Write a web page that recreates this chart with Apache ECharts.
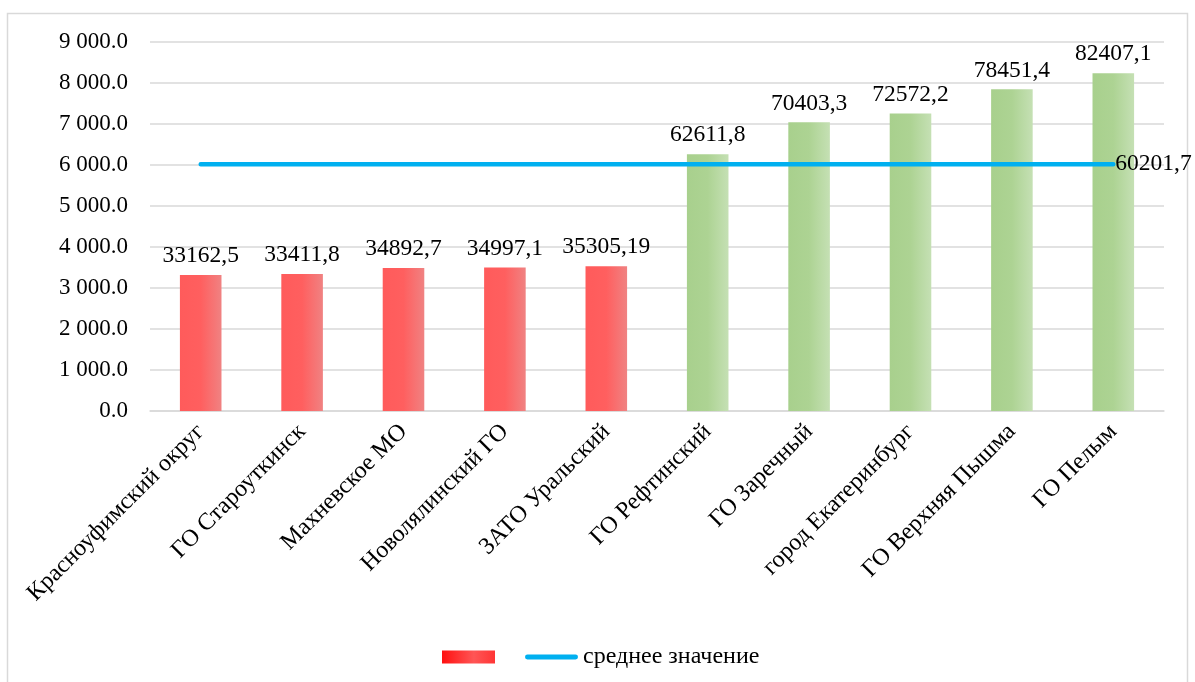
<!DOCTYPE html>
<html><head><meta charset="utf-8">
<script src="https://cdn.jsdelivr.net/npm/echarts@6/dist/echarts.min.js"></script>
<style>html,body{margin:0;padding:0;background:#fff}#c{width:1195px;height:682px}</style>
</head><body><div id="c"></div>
<script>
const categories = ['Красноуфимский округ','ГО Староуткинск','Махневское МО','Новолялинский ГО','ЗАТО Уральский','ГО Рефтинский','ГО Заречный','город Екатеринбург','ГО Верхняя Пышма','ГО Пелым'];
const barValues = [33162.5, 33411.8, 34892.7, 34997.1, 35305.19, 62611.8, 70403.3, 72572.2, 78451.4, 82407.1];
const barLabels = ['33162,5','33411,8','34892,7','34997,1','35305,19','62611,8','70403,3','72572,2','78451,4','82407,1'];
const barGroup = ['low','low','low','low','low','high','high','high','high','high'];
const averageValue = 60201.7;
const averageLabel = '60201,7';
const axisScale = 10;
const yTicks = {min: 0, max: 9000, interval: 1000};

const font = '"Liberation Serif", "Times New Roman", serif';
const redGrad = new echarts.graphic.LinearGradient(0,0,1,0,[{offset:0,color:'#FF5B5B'},{offset:0.5,color:'#FF5F5F'},{offset:1,color:'#F08282'}]);
const greenGrad = new echarts.graphic.LinearGradient(0,0,1,0,[{offset:0,color:'#A8D08D'},{offset:0.5,color:'#ADD393'},{offset:1,color:'#C5E0B4'}]);
const legendRed = new echarts.graphic.LinearGradient(0,0,1,0,[{offset:0,color:'#FF1010'},{offset:0.6,color:'#FF5555'},{offset:1,color:'#FF3535'}]);

const barData = barValues.map((v,i)=>({
  value: v/axisScale,
  itemStyle: {color: barGroup[i]==='low' ? redGrad : greenGrad},
  label: {formatter: barLabels[i]}
}));
const avgData = categories.map(()=>averageValue/axisScale);

const chart = echarts.init(document.getElementById('c'));
chart.setOption({
  animation: false,
  graphic: [{type:'rect', shape:{x:7.5,y:13.5,width:1180,height:700}, style:{fill:'none',stroke:'#D9D9D9',lineWidth:1.5}}],
  grid: {left:150, right:31, top:42, bottom:271},
  legend: {
    left: 437, top: 640, itemGap: 19,
    textStyle: {fontFamily: font, fontSize: 24, color:'#000'},
    itemWidth: 53, itemHeight: 13,
    data: [
      {name: ' ', icon: 'rect', itemStyle: {color: legendRed}},
      {name: 'среднее значение', icon: 'path://M5,0 H105 A5,5 0 0 1 105,10 H5 A5,5 0 0 1 5,0 Z', itemStyle: {color:'#00B0F0'}}
    ]
  },
  xAxis: {
    type: 'category', data: categories,
    axisTick: {show:false},
    axisLine: {lineStyle:{color:'#D9D9D9', width:1.5}},
    axisLabel: {rotate: 45, interval: 0, fontFamily: font, fontSize: 24, color:'#000', margin: 17}
  },
  yAxis: {
    type: 'value', min: yTicks.min, max: yTicks.max, interval: yTicks.interval,
    axisLine: {show:false}, axisTick:{show:false},
    splitLine: {lineStyle:{color:'#D9D9D9', width:1.5}},
    axisLabel: {fontFamily: font, fontSize: 23, color:'#000', margin: 22,
      formatter: v => { const s = Math.round(v).toString().replace(/\B(?=(\d{3})+(?!\d))/g,' '); return s + '.0'; }}
  },
  series: [
    {
      name: ' ', type: 'bar', barWidth: '41%', data: barData,
      itemStyle: {color: redGrad},
      label: {show:true, position:'top', distance: 7, fontFamily: font, fontSize: 23.5, color:'#000'}
    },
    {
      name: 'среднее значение', type: 'line', data: avgData, symbol: 'none',
      lineStyle: {color:'#00B0F0', width: 4.5, cap:'round'},
      itemStyle: {color:'#00B0F0'},
      endLabel: {show: true, formatter: averageLabel, distance: 2, fontFamily: font, fontSize: 23.5, color:'#000'},
      z: 5
    }
  ]
});
</script></body></html>
